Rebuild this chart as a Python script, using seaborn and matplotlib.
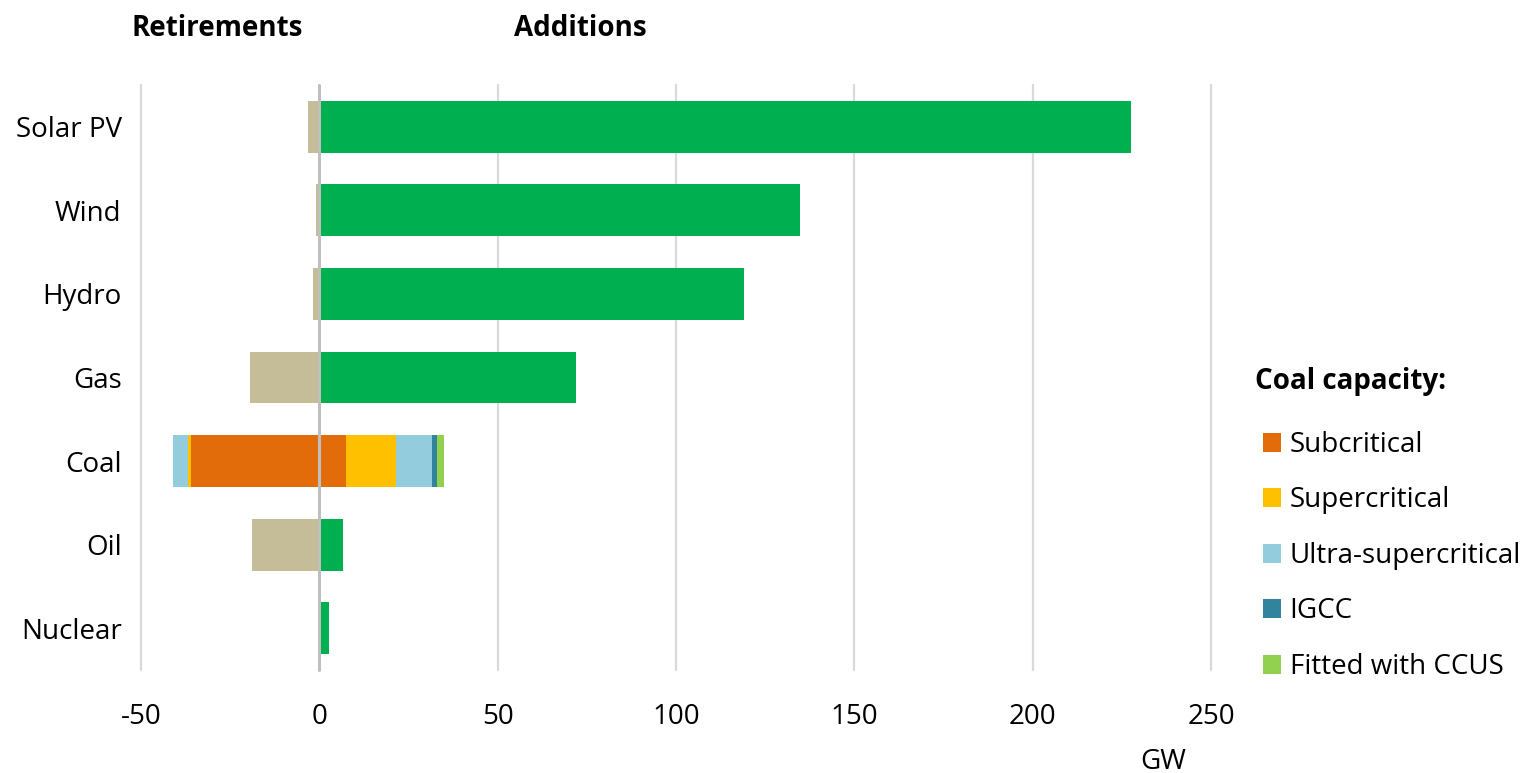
import matplotlib
matplotlib.use("Agg")
import matplotlib.pyplot as plt
from matplotlib.patches import Patch
import seaborn as sns
import pandas as pd
import numpy as np

categories = ["Solar PV", "Wind", "Hydro", "Gas", "Coal", "Oil", "Nuclear"]
additions = [227.7, 134.7, 119.2, 72.0, 0.0, 6.5, 2.8]
retirements = [-3.1, -0.9, -1.7, -19.4, 0.0, -19.0, 0.0]

coal_types = ["Subcritical", "Supercritical", "Ultra-supercritical", "IGCC", "Fitted with CCUS"]
coal_additions = [7.6, 13.8, 10.1, 1.4, 2.0]
coal_retirements = [-36.0, -0.9, -4.1, 0.0, 0.0]

xticks = [-50, 0, 50, 100, 150, 200, 250]

GREEN = "#00AF50"
TAN = "#C4BD97"
coal_colors = ["#E36C0A", "#FFC000", "#93CDDD", "#31849B", "#92D050"]

sns.set_theme(style="white")
plt.rcParams["font.family"] = ["Open Sans", "DejaVu Sans"]
plt.rcParams["text.color"] = "black"
plt.rcParams["xtick.color"] = "black"
plt.rcParams["ytick.color"] = "black"

FS = 20

fig = plt.figure(figsize=(15.22, 7.73), dpi=100)
ax = fig.add_axes([141 / 1522, 1 - 670 / 773, 1070 / 1522, 585 / 773])

df = pd.DataFrame({"cat": categories, "add": additions, "ret": retirements})
bw = 0.62
sns.barplot(data=df, y="cat", x="add", order=categories, color=GREEN, width=bw,
            orient="h", ax=ax, saturation=1, zorder=2, linewidth=0)
sns.barplot(data=df, y="cat", x="ret", order=categories, color=TAN, width=bw,
            orient="h", ax=ax, saturation=1, zorder=2, linewidth=0)

ci = categories.index("Coal")
left = 0.0
for v, c in zip(coal_additions, coal_colors):
    if v:
        ax.barh(ci, v, left=left, height=bw, color=c, zorder=3, linewidth=0)
    left += v
left = 0.0
for v, c in zip(coal_retirements, coal_colors):
    if v:
        ax.barh(ci, v, left=left, height=bw, color=c, zorder=3, linewidth=0)
    left += v

ax.set_xlim(-50, 250)
ax.set_ylim(6.5, -0.5)
for t in xticks:
    if t == 0:
        ax.axvline(0, color="#BFBFBF", lw=2.2, zorder=5, clip_on=False)
    else:
        ax.axvline(t, color="#D9D9D9", lw=1.6, zorder=0, clip_on=False)

ax.set_xticks(xticks)
ax.set_xticklabels([str(t) for t in xticks])
ax.set_xlabel("")
ax.set_ylabel("")
ax.tick_params(axis="x", length=0, pad=24, labelsize=FS)
ax.tick_params(axis="y", length=0, pad=14, labelsize=FS)
for s in ax.spines.values():
    s.set_visible(False)

fig.text(217 / 1522, 1 - 29 / 773, "Retirements", ha="center", va="center",
         fontsize=FS, fontweight="bold")
fig.text(580 / 1522, 1 - 29 / 773, "Additions", ha="center", va="center",
         fontsize=FS, fontweight="bold")
fig.text(1163 / 1522, 1 - 762 / 773, "GW", ha="center", va="center", fontsize=FS)
fig.text(1255 / 1522, 1 - 382 / 773, "Coal capacity:", ha="left", va="center",
         fontsize=FS, fontweight="bold")

handles = [Patch(facecolor=c, edgecolor="none") for c in coal_colors]
leg = fig.legend(handles, coal_types, loc="upper left",
                 bbox_to_anchor=(1263 / 1522, 1 - 431 / 773),
                 frameon=False, fontsize=FS,
                 handlelength=0.66, handleheight=0.66, handletextpad=0.3,
                 labelspacing=0.99, borderaxespad=0, borderpad=0)

fig.savefig("out.png", dpi=100)
